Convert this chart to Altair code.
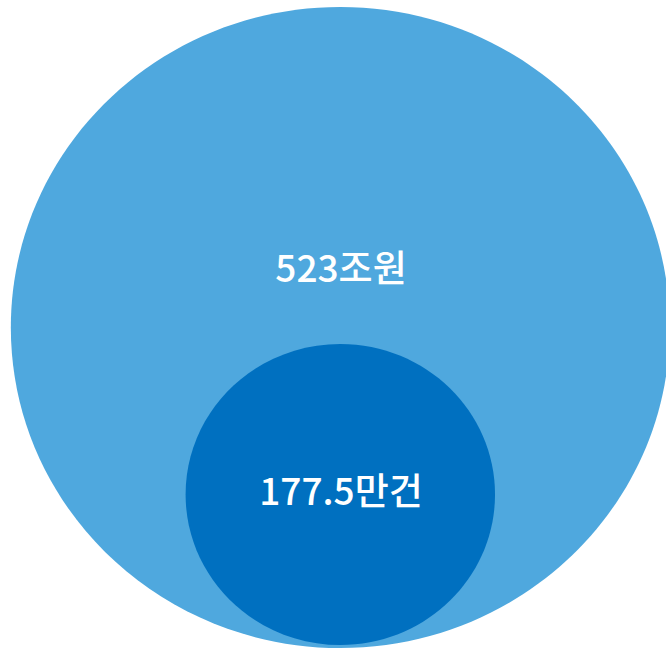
import altair as alt
import pandas as pd

labels = ["523조원", "177.5만건"]
values = [523, 177.5]
colors = ["#4FA8DE", "#0070C0"]

df = pd.DataFrame({"label": labels, "value": values})

ellipse = "M -1.028 0 A 1.028 1 0 1 1 1.028 0 A 1.028 1 0 1 1 -1.028 0 Z"

bubbles = alt.Chart(df).mark_point(
    filled=True, opacity=1, strokeWidth=0, shape=ellipse
).encode(
    x=alt.value(340.3),
    y=alt.Y("label:N", scale=alt.Scale(type="point", domain=labels, range=[327.5, 494.5], padding=0), axis=None),
    size=alt.Size("value:Q", scale=alt.Scale(domain=[177.5, 523], range=[90601, 410881], zero=False), legend=None),
    color=alt.Color("label:N", scale=alt.Scale(domain=labels, range=colors), legend=None),
)

texts = alt.Chart(df).mark_text(
    font="Noto Sans CJK KR", fontSize=37, fontWeight=500, color="white",
    align="center", baseline="middle"
).encode(
    x=alt.value(341),
    y=alt.Y("label:N", scale=alt.Scale(type="point", domain=labels, range=[271, 494], padding=0), axis=None),
    text="label:N",
)

chart = alt.layer(bubbles, texts).resolve_scale(y="independent").properties(
    width=666, height=649, padding=0, autosize="none", background="white"
).configure_view(stroke=None)

chart.save("out.html", embed_options={"renderer": "svg", "actions": False})
